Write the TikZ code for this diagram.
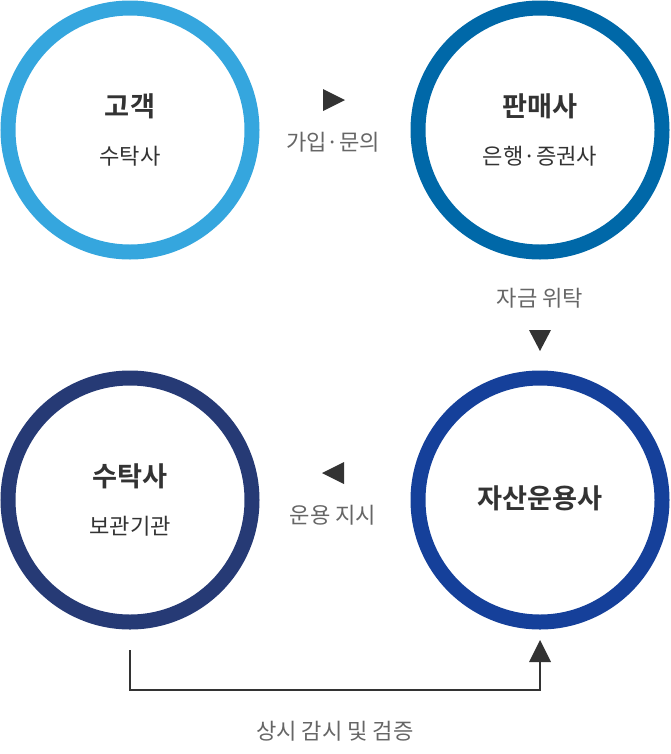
\documentclass[tikz,border=0pt]{standalone}
\usepackage{fontspec}
\setmainfont{Noto Sans CJK KR}
\newfontfamily\krbold{Noto Sans CJK KR Bold}
\usetikzlibrary{positioning}
\definecolor{cLight}{HTML}{35A6DE}
\definecolor{cMid}{HTML}{0068A8}
\definecolor{cNavy}{HTML}{263A75}
\definecolor{cRoyal}{HTML}{15409A}
\definecolor{cText}{HTML}{333333}
\definecolor{cGray}{HTML}{666666}
\tikzset{
  ring/.style={circle,draw=#1,line width=15*0.02cm,minimum size=244*0.02cm,inner sep=0pt},
  ttl/.style={font=\krbold\fontsize{15.5}{17}\selectfont,text=cText},
  sub/.style={font=\fontsize{12.6}{14}\selectfont,text=cText},
  lbl/.style={font=\fontsize{12.6}{14}\selectfont,text=cGray},
  tip/.style={fill=cText}
}
\begin{document}
\begin{tikzpicture}[x=0.02cm,y=-0.02cm]
\useasboundingbox (0,0) rectangle (670,754);
% circles
\node[ring=cLight] (gogaek) at (130,130) {};
\node[ring=cMid] (panmae) at (540,130) {};
\node[ring=cNavy] (sutak) at (130,500) {};
\node[ring=cRoyal] (jasan) at (540,500) {};
\node[ttl] at (130,106) {고객};
\node[sub] at (130,156) {수탁사};
\node[ttl] at (540,106) {판매사};
\node[sub] at (540,156) {은행·증권사};
\node[ttl] at (130,476) {수탁사};
\node[sub] at (130,526) {보관기관};
\node[ttl] at (540,498) {자산운용사};
% arrows and labels
\fill[tip] (323,89) -- (345,100) -- (323,111) -- cycle;
\node[lbl] (join) at (333,142) {가입·문의};
\node[lbl] (trust) at (540,298) {자금 위탁};
\fill[tip] (529,330) -- (551,330) -- (540,351) -- cycle;
\fill[tip] (344,462) -- (322,473) -- (344,484) -- cycle;
\node[lbl] (order) at (333,515) {운용 지시};
\coordinate (bStart) at (130,650);
\coordinate (bEnd) at (540,662);
\draw[cText,line width=1.5*0.02cm] (bStart) |- (335,690) -| (bEnd);
\fill[tip] (529,662) -- (551,662) -- (540,640) -- cycle;
\node[lbl] (watch) at (335,731) {상시 감시 및 검증};
\end{tikzpicture}
\end{document}
